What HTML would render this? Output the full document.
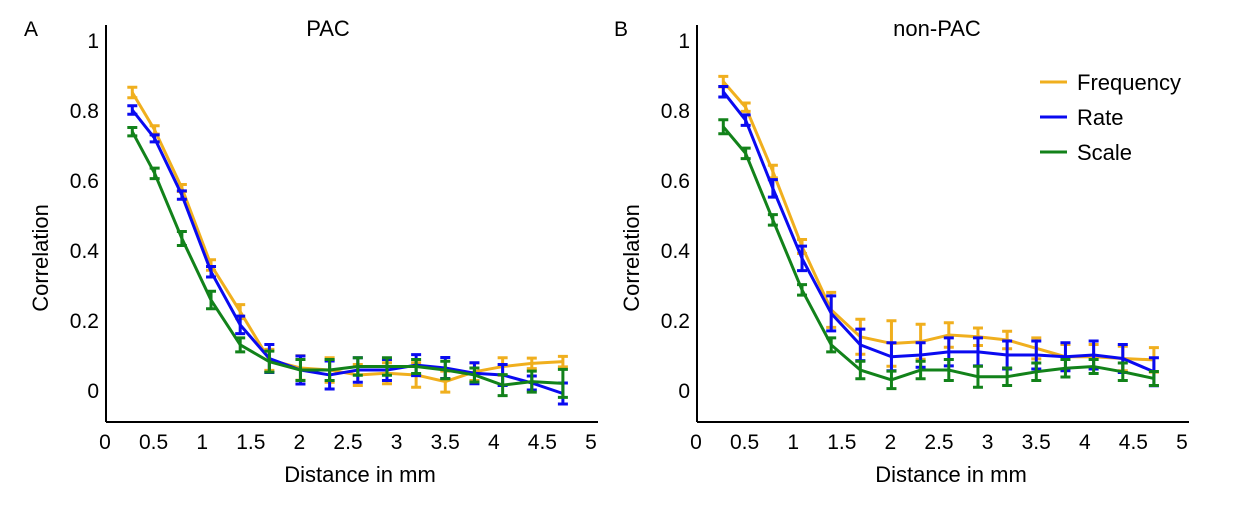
<!DOCTYPE html>
<html><head><meta charset="utf-8"><style>
body{margin:0;background:#fff;}
svg text{font-family:"Liberation Sans",sans-serif;fill:#000;}
</style></head><body>
<svg id="chart" width="1235" height="507" viewBox="0 0 1235 507" xmlns="http://www.w3.org/2000/svg"></svg>
<script>
const distances = [0.25,0.48,0.76,1.06,1.36,1.66,1.98,2.28,2.57,2.87,3.17,3.47,3.77,4.06,4.36,4.68];
const xTicks = [0,0.5,1,1.5,2,2.5,3,3.5,4,4.5,5];
const xTickLabels = ["0","0.5","1","1.5","2","2.5","3","3.5","4","4.5","5"];
const yTicks = [0,0.2,0.4,0.6,0.8,1];
const yTickLabels = ["0","0.2","0.4","0.6","0.8","1"];
const seriesNames = ["Frequency","Rate","Scale"];
const pacFrequency = [0.85,0.743,0.577,0.357,0.224,0.086,0.063,0.057,0.043,0.048,0.043,0.024,0.052,0.067,0.076,0.081];
const pacFrequencyErr = [0.015,0.012,0.01,0.015,0.02,0.03,0.035,0.035,0.03,0.03,0.035,0.03,0.025,0.025,0.015,0.015];
const pacRate = [0.80,0.719,0.557,0.338,0.186,0.09,0.057,0.043,0.057,0.057,0.071,0.063,0.048,0.043,0.02,-0.01];
const pacRateErr = [0.012,0.01,0.012,0.015,0.025,0.04,0.04,0.04,0.035,0.03,0.03,0.03,0.03,0.03,0.02,0.03];
const pacScale = [0.738,0.619,0.433,0.257,0.129,0.081,0.057,0.057,0.067,0.067,0.067,0.057,0.043,0.014,0.024,0.019];
const pacScaleErr = [0.012,0.015,0.02,0.025,0.02,0.03,0.03,0.03,0.025,0.025,0.02,0.025,0.02,0.03,0.03,0.04];
const nonFrequency = [0.881,0.808,0.624,0.41,0.229,0.152,0.133,0.138,0.157,0.152,0.143,0.119,0.095,0.095,0.09,0.086];
const nonFrequencyErr = [0.015,0.012,0.018,0.02,0.05,0.05,0.065,0.05,0.035,0.025,0.025,0.03,0.035,0.035,0.035,0.035];
const nonRate = [0.852,0.771,0.576,0.376,0.219,0.129,0.095,0.1,0.109,0.109,0.1,0.1,0.095,0.1,0.09,0.052];
const nonRateErr = [0.015,0.015,0.025,0.035,0.05,0.045,0.04,0.035,0.04,0.04,0.04,0.04,0.04,0.04,0.04,0.04];
const nonScale = [0.752,0.676,0.486,0.286,0.129,0.057,0.029,0.057,0.057,0.038,0.038,0.052,0.062,0.067,0.052,0.033];
const nonScaleErr = [0.02,0.015,0.015,0.015,0.02,0.025,0.025,0.025,0.03,0.03,0.025,0.025,0.025,0.02,0.025,0.02];
const colors = ["#F0AF1E","#0A0AF0","#12821A"];

const svg = document.getElementById('chart');
const NS = "http://www.w3.org/2000/svg";
function mk(tag, attrs, parent){const e=document.createElementNS(NS,tag);for(const k in attrs)e.setAttribute(k,attrs[k]);(parent||svg).appendChild(e);return e;}

function panel(ox, letter, letterX, title, freq, fe, rate, re, scale, se, key){
  const g = mk('g',{});
  
  
  const xs = v => ox + 2 + v*97.2;
  const ys = v => 390 - v*350;
  const ax = mk('line',{x1:ox,y1:25,x2:ox,y2:422,stroke:'#000','stroke-width':2},g);
  
  
  const bx = mk('line',{x1:ox,y1:422,x2:ox+492,y2:422,stroke:'#000','stroke-width':2},g);
  
  
  yTicks.forEach((v,i)=>{
    const t = mk('text',{x:ox-7,y:ys(v)+8,'text-anchor':'end','font-size':21},g);
    t.textContent = yTickLabels[i];
    
    
  });
  xTicks.forEach((v,i)=>{
    const t = mk('text',{x:xs(v)-3,y:449,'text-anchor':'middle','font-size':21},g);
    t.textContent = xTickLabels[i];
    
    
  });
  const yt = mk('text',{x:0,y:0,'text-anchor':'middle','font-size':22,transform:`translate(${ox-58},258) rotate(-90)`},g);
  yt.textContent = 'Correlation';
  
  
  const xt = mk('text',{x:ox+254,y:482,'text-anchor':'middle','font-size':22},g);
  xt.textContent = 'Distance in mm';
  
  
  const tt = mk('text',{x:ox+222+ (key==='pac'?0:18),y:36,'text-anchor':'middle','font-size':22},g);
  tt.textContent = title;
  
  
  const lt = mk('text',{x:letterX,y:36,'font-size':21},g);
  lt.textContent = letter;
  
  
  [[freq,fe],[rate,re],[scale,se]].forEach((s,si)=>{
    const vals=s[0], errs=s[1];
    const pts = vals.map((v,i)=>xs(distances[i])+','+ys(v)).join(' ');
    const pl = mk('polyline',{points:pts,fill:'none',stroke:colors[si],'stroke-width':3,'stroke-linejoin':'round'},g);
    
    
    vals.forEach((v,i)=>{
      const x=xs(distances[i]), y1=ys(v+errs[i]), y2=ys(v-errs[i]);
      const eb = mk('path',{d:`M${x},${y1}V${y2}M${x-5},${y1}H${x+5}M${x-5},${y2}H${x+5}`,stroke:colors[si],'stroke-width':3,fill:'none'},g);
      
      
    });
  });
}
panel(106,'A',24,'PAC',pacFrequency,pacFrequencyErr,pacRate,pacRateErr,pacScale,pacScaleErr,'pac');
panel(697,'B',614,'non-PAC',nonFrequency,nonFrequencyErr,nonRate,nonRateErr,nonScale,nonScaleErr,'non-pac');

const lg = mk('g',{});


seriesNames.forEach((n,i)=>{
  const y = 82 + i*35;
  const ln = mk('line',{x1:1040,y1:y,x2:1067,y2:y,stroke:colors[i],'stroke-width':3},lg);
  
  
  const t = mk('text',{x:1077,y:y+8,'font-size':22},lg);
  t.textContent = n;
  
  
});
</script>
</body></html>
